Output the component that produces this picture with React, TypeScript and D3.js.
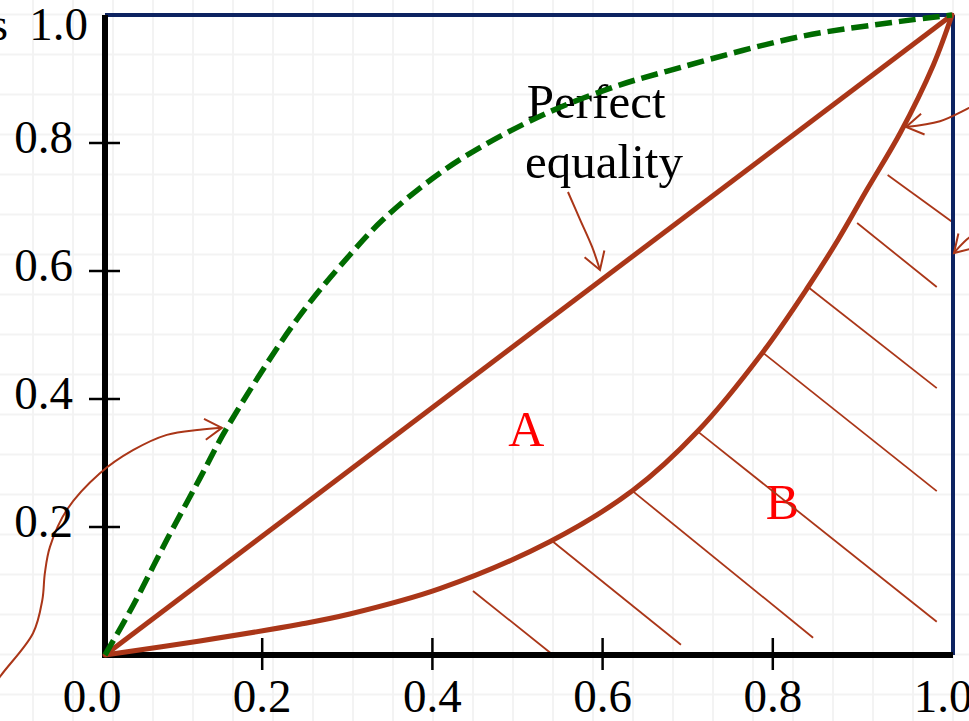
import React from "react";
import * as d3 from "d3";

// Axis ticks
const X_TICKS = [0, 0.2, 0.4, 0.6, 0.8, 1.0];
const Y_TICKS = [0.2, 0.4, 0.6, 0.8, 1.0];

// Line of perfect equality
const EQUALITY_X = [0, 1];
const EQUALITY_Y = [0, 1];

// Lorenz curve (solid, bowed below the diagonal)
const LORENZ_X = [0, 0.112, 0.23, 0.289, 0.396, 0.525, 0.623, 0.7, 0.776, 0.83, 0.866, 0.9, 0.939, 0.978, 1];
const LORENZ_Y = [0, 0.022, 0.048, 0.064, 0.104, 0.177, 0.257, 0.35, 0.472, 0.575, 0.65, 0.728, 0.816, 0.922, 1];

// Dashed curve above the diagonal
const UPPER_X = [0, 0.033, 0.073, 0.112, 0.144, 0.227, 0.289, 0.328, 0.387, 0.439, 0.522, 0.604, 0.663, 0.82, 0.939, 1];
const UPPER_Y = [0, 0.077, 0.18, 0.276, 0.355, 0.525, 0.625, 0.68, 0.745, 0.79, 0.847, 0.889, 0.912, 0.966, 0.99, 1];

// Hatching of area B: [x1, y1, x2, y2] in data units
const HATCH = [
  [0.4345, 0.1, 0.529, 0.0],
  [0.529, 0.177, 0.68, 0.016],
  [0.623, 0.256, 0.836, 0.027],
  [0.7, 0.349, 0.982, 0.052],
  [0.777, 0.472, 0.982, 0.256],
  [0.83, 0.575, 0.982, 0.417],
  [0.888, 0.675, 0.982, 0.575],
  [0.924, 0.75, 1.0, 0.677],
];

// Annotation arrows (data units), last point is the tip
const ARROW_LEFT = [
  [-0.1417, -0.0703], [-0.124, -0.034], [-0.085, 0.034], [-0.074, 0.086], [-0.071, 0.128],
  [-0.065, 0.169], [-0.045, 0.227], [-0.006, 0.284], [0.033, 0.32], [0.073, 0.344],
  [0.112, 0.352], [0.138, 0.355],
];
const ARROW_TOP_RIGHT = [[1.039, 0.867], [1.0201, 0.8547], [0.9858, 0.834], [0.9457, 0.825]];
const ARROW_RIGHT = [[1.045, 0.667], [1.02, 0.652], [1.0024, 0.628]];
const ARROW_EQUALITY = [[0.5466, 0.7234], [0.561, 0.68], [0.575, 0.638], [0.5844, 0.6016]];

const W = 969;
const H = 721;
const LEFT = 105;
const RIGHT = 952;
const TOP = 15;
const BOTTOM = 655;

const BROWN = "#aa3618";
const GREEN = "#006b00";
const NAVY = "#0d2361";
const FONT = "'Liberation Serif', 'Times New Roman', serif";

export default function App() {
  const x = d3.scaleLinear().domain([0, 1]).range([LEFT, RIGHT]);
  const y = d3.scaleLinear().domain([0, 1]).range([BOTTOM, TOP]);
  // tick marks/labels sit slightly left of the data frame
  const xTick = d3.scaleLinear().domain([0, 1]).range([LEFT - 13, RIGHT - 9]);

  const line = d3
    .line<[number, number]>()
    .x((d) => x(d[0]))
    .y((d) => y(d[1]))
    .curve(d3.curveCatmullRom.alpha(0.5));
  const smooth = d3
    .line<number[]>()
    .x((d) => x(d[0]))
    .y((d) => y(d[1]))
    .curve(d3.curveCatmullRom.alpha(0.5));

  const zip = (xs: number[], ys: number[]) => xs.map((v, i) => [v, ys[i]] as [number, number]);

  const gridX = d3.range(33, W, 40);
  const gridY = d3.range(14.5, H, 40);

  const arrowHead = (pts: number[][]) => {
    const t = pts[pts.length - 1];
    const p = pts[pts.length - 2];
    const tx = x(t[0]);
    const ty = y(t[1]);
    const ang = Math.atan2(y(p[1]) - ty, x(p[0]) - tx);
    const len = 20;
    const spread = 0.55;
    const a1 = ang + spread;
    const a2 = ang - spread;
    return `M${tx + len * Math.cos(a1)},${ty + len * Math.sin(a1)}L${tx},${ty}L${tx + len * Math.cos(a2)},${ty + len * Math.sin(a2)}`;
  };

  const arrows = [ARROW_LEFT, ARROW_TOP_RIGHT, ARROW_RIGHT, ARROW_EQUALITY];

  return (
    <svg
      width={W}
      height={H}
      viewBox={`0 0 ${W} ${H}`}
      style={{ position: "absolute", left: 0, top: 0, display: "block", background: "#fff" }}
    >
      <rect x={0} y={0} width={W} height={H} fill="#fff" />
      {/* background grid */}
      <g stroke="#f3f3f3" strokeWidth={2}>
        {gridX.map((gx) => (
          <line key={"gx" + gx} x1={gx} x2={gx} y1={0} y2={H} />
        ))}
        {gridY.map((gy) => (
          <line key={"gy" + gy} x1={0} x2={W} y1={gy} y2={gy} />
        ))}
      </g>

      {/* labels inside the plot */}
      <g fontFamily={FONT}>
        <text x={x(0.498)} y={y(0.839)} fontSize={49} fill="#000">Perfect</text>
        <text x={x(0.496)} y={y(0.745)} fontSize={49} fill="#000">equality</text>
        <text x={x(0.476)} y={y(0.327)} fontSize={50} fill="#ff0000">A</text>
        <text x={x(0.78)} y={y(0.212)} fontSize={50} fill="#ff0000">B</text>
      </g>

      {/* hatching */}
      <g stroke={BROWN} strokeWidth={1.8}>
        {HATCH.map((h, i) => (
          <line key={i} x1={x(h[0])} y1={y(h[1])} x2={x(h[2])} y2={y(h[3])} />
        ))}
      </g>

      {/* frame */}
      <line x1={x(0)} x2={x(1) + 2} y1={y(1)} y2={y(1)} stroke={NAVY} strokeWidth={4} />
      <line x1={x(1) + 1} x2={x(1) + 1} y1={y(1)} y2={y(0)} stroke={NAVY} strokeWidth={4} />
      <line x1={x(0)} x2={x(0)} y1={y(1)} y2={y(0) + 3} stroke="#000" strokeWidth={6} />
      <line x1={x(0) - 2} x2={x(1) + 1} y1={y(0)} y2={y(0)} stroke="#000" strokeWidth={6} />

      {/* tick marks */}
      <g stroke="#000" strokeWidth={2.5}>
        {Y_TICKS.filter((v) => v < 1).map((v) => (
          <line key={"yt" + v} x1={x(0) - 16} x2={x(0) + 15} y1={y(v)} y2={y(v)} />
        ))}
        {X_TICKS.filter((v) => v > 0 && v < 1).map((v) => (
          <line key={"xt" + v} x1={xTick(v)} x2={xTick(v)} y1={y(0) - 17} y2={y(0) + 15} />
        ))}
      </g>

      {/* curves */}
      <path d={line(zip(EQUALITY_X, EQUALITY_Y)) || ""} fill="none" stroke={BROWN} strokeWidth={5} />
      <path d={line(zip(LORENZ_X, LORENZ_Y)) || ""} fill="none" stroke={BROWN} strokeWidth={5} strokeLinecap="round" />
      <path
        d={line(zip(UPPER_X, UPPER_Y)) || ""}
        fill="none"
        stroke={GREEN}
        strokeWidth={5.5}
        strokeDasharray="17 7"
      />

      {/* annotation arrows */}
      <g fill="none" stroke={BROWN} strokeWidth={2}>
        {arrows.map((a, i) => (
          <g key={i}>
            <path d={smooth(a) || ""} />
            <path d={arrowHead(a)} />
          </g>
        ))}
      </g>

      {/* tick labels */}
      <g fontFamily={FONT} fontSize={47} fill="#000">
        {X_TICKS.map((v) => (
          <text key={"xl" + v} x={xTick(v)} y={712} textAnchor="middle">
            {v.toFixed(1)}
          </text>
        ))}
        {Y_TICKS.map((v) =>
          v < 1 ? (
            <text key={"yl" + v} x={73} y={y(v) + 10} textAnchor="end">
              {v.toFixed(1)}
            </text>
          ) : (
            <text key={"yl" + v} x={88} y={y(v) + 25} textAnchor="end">
              {v.toFixed(1)}
            </text>
          )
        )}
        <text x={8} y={y(1) + 25} textAnchor="end">s</text>
      </g>
    </svg>
  );
}
